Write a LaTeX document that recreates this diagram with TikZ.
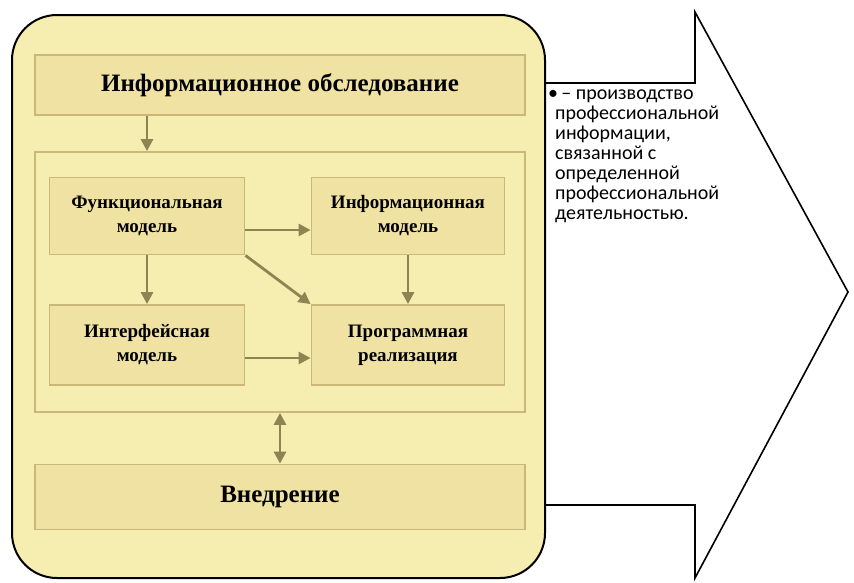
\documentclass[tikz,border=0pt]{standalone}
\usepackage{fontspec}
\setmainfont{Liberation Serif}
\newfontfamily\bodysans{Carlito}
\usetikzlibrary{arrows.meta}
\definecolor{bgy}{HTML}{F6EDB0}
\definecolor{boxf}{HTML}{EFE2A2}
\definecolor{boxd}{HTML}{C9B877}
\definecolor{arr}{HTML}{8C8452}
\tikzset{
 bx/.style={draw=boxd,line width=1.8pt,fill=boxf,align=center,font=\bfseries\fontsize{19}{24}\selectfont},
 ar/.style={draw=arr,line width=2.8pt,-{Triangle[length=12pt,width=12pt]}},
}
\begin{document}
\begin{tikzpicture}[x=1pt,y=-1pt]
\useasboundingbox (0,0) rectangle (854,582);
\draw[line width=1.6pt] (545,83) -- (695,83) -- (695,12) -- (848,292) -- (695,578) -- (695,505) -- (545,505);
\draw[line width=2pt,fill=bgy,rounded corners=45pt] (12,15) rectangle (545,578);
\node[bx,minimum width=490pt,minimum height=60pt,font=\bfseries\fontsize{25}{28}\selectfont] (top) at (280,85) {Информационное обследование};
\node[draw=boxd,line width=1.8pt,fill=bgy,minimum width=490pt,minimum height=260pt] (mid) at (280,282) {};
\node[bx,minimum width=195pt,minimum height=77pt] (fm) at (147,216) {Функциональная\\модель};
\node[bx,minimum width=193pt,minimum height=77pt] (im) at (408,216) {Информационная\\модель};
\node[bx,minimum width=195pt,minimum height=80pt] (ifm) at (147,345) {Интерфейсная\\модель};
\node[bx,minimum width=193pt,minimum height=80pt] (pr) at (408,345) {Программная\\реализация};
\node[bx,minimum width=490pt,minimum height=65pt,font=\bfseries\fontsize{25}{28}\selectfont] (vn) at (280,497) {Внедрение};
\draw[ar] (top.south -| fm) -- (mid.north -| fm);
\draw[ar] (fm.east |- 0,230) -- (im.west |- 0,230);
\draw[ar] (fm) -- (ifm);
\draw[ar] (fm.south east) -- (pr.north west);
\draw[ar] (im) -- (pr);
\draw[ar] (ifm.east |- 0,358) -- (pr.west |- 0,358);
\draw[ar,{Triangle[length=12pt,width=12pt]}-{Triangle[length=12pt,width=12pt]}] (mid.south -| 280,0) -- (vn.north -| 280,0);
\node[anchor=north west,align=left,font=\bodysans\fontsize{20}{20}\selectfont,inner sep=0pt] (tx) at (548,90) {•\,– производство\\\hspace{7pt}профессиональной\\\hspace{7pt}информации,\\\hspace{7pt}связанной с\\\hspace{7pt}определенной\\\hspace{7pt}профессиональной\\\hspace{7pt}деятельностью.};
\end{tikzpicture}
\end{document}
